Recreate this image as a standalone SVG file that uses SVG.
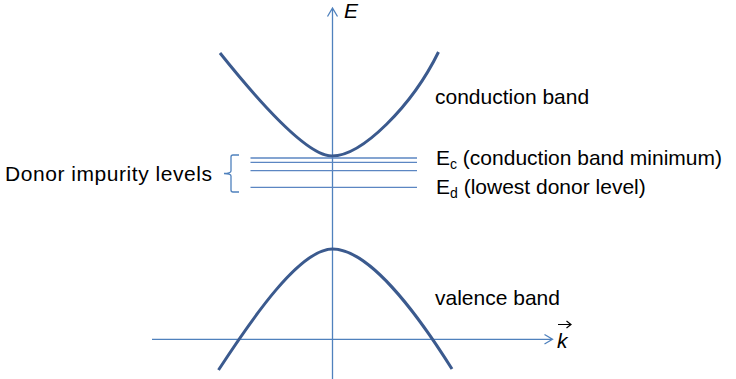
<svg xmlns="http://www.w3.org/2000/svg" width="736" height="379" viewBox="0 0 736 379">
<style>
.axis{stroke:#4F81BD;stroke-width:1.3;fill:none}
.band{stroke:#3B5A8E;stroke-width:3;fill:none;stroke-linecap:butt}
.lvl{stroke:#5B86C2;stroke-width:1.3;fill:none}
.t{font-family:"Liberation Sans",Arial,sans-serif;font-size:21px;fill:#000}
.sub{font-size:14px}
</style>
<rect width="736" height="379" fill="#fff"/>
<g id="connectors">
<path class="axis" d="M332.5,379 V8 M327.5,16.5 L332.5,8 L337.5,16.5"/>
<path class="axis" d="M152,339.3 H552.5 M544.5,334.5 L552.5,339.3 L544.5,344"/>
</g>
<g id="conduction-band">
<path class="band" d="M220,53 C248,88 305,156 332,156 C362,156 412,106 438.5,52"/>
<text class="t" x="435" y="104">conduction band</text>
</g>
<g id="valence-band">
<path class="band" d="M218.5,370 C253,317 300,249 332.5,249 C368,249 415,310 452,369"/>
<text class="t" x="435" y="305">valence band</text>
</g>
<g id="levels">
<line class="lvl" x1="250.5" y1="158" x2="417" y2="158"/>
<line class="lvl" x1="250.5" y1="162.3" x2="417" y2="162.3"/>
<line class="lvl" x1="250.5" y1="170.7" x2="417" y2="170.7"/>
<line class="lvl" x1="250.5" y1="187.3" x2="417" y2="187.3"/>
</g>
<g id="donor-label">
<path class="axis" d="M239,155 L233,155 Q231,155 231,157 L231,171 Q231,173.3 224,173.5 Q231,173.7 231,176 L231,190 Q231,192 233,192 L239,192"/>
<text class="t" x="5" y="181" textLength="207">Donor impurity levels</text>
</g>
<g id="ec-label">
<text class="t" x="436" y="165">E<tspan class="sub" dy="4">c</tspan><tspan dy="-4"> (conduction band minimum)</tspan></text>
</g>
<g id="ed-label">
<text class="t" x="436" y="193.5">E<tspan class="sub" dy="4">d</tspan><tspan dy="-4"> (lowest donor level)</tspan></text>
</g>
<g id="axis-labels">
<text class="t" x="344" y="18" font-style="italic">E</text>
<text class="t" x="557" y="348" font-style="italic">k</text>
<path class="axis" style="stroke:#000;stroke-width:1.2" d="M558,324.5 H571 M566.5,321 L571,324.5 L566.5,328"/>
</g>
</svg>
